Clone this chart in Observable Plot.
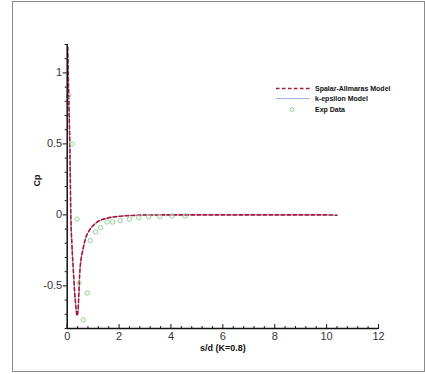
<!DOCTYPE html>
<html><head><meta charset="utf-8">
<script src="https://cdn.jsdelivr.net/npm/d3@7"></script>
<script src="https://cdn.jsdelivr.net/npm/@observablehq/plot@0.6"></script>
<style>
body{margin:0;background:#fff;font-family:"Liberation Sans",Arial,sans-serif;}
#wrap{position:relative;width:425px;height:374px;overflow:hidden;}
#frame{position:absolute;left:12px;top:1px;width:411px;height:369px;border:1px solid #8a8a8a;pointer-events:none;}
#legend{position:absolute;left:276px;top:83px;font:bold 7px "Liberation Sans",Arial,sans-serif;color:#111;}
.row{display:flex;align-items:center;height:10.5px;white-space:nowrap;}
.row svg{width:34px;height:7px;margin-right:5px;flex:none;}
</style></head><body>
<div id="wrap"><div id="frame"></div><div id="legend"></div></div>
<script>
// Spalart-Allmaras model
const saX = [0.02,0.04,0.07,0.10,0.12,0.14,0.18,0.24,0.29,0.34,0.38,0.42,0.45,0.48,0.53,0.60,0.70,0.85,1.0,1.2,1.5,2.0,2.5,3.0,4.0,5.0,6.0,7.0,8.0,9.0,10.0,10.4];
const saY = [1.18,1.0,0.75,0.5,0.25,0.0,-0.2,-0.4,-0.55,-0.66,-0.71,-0.67,-0.55,-0.42,-0.32,-0.25,-0.17,-0.11,-0.075,-0.045,-0.025,-0.01,-0.004,-0.001,0,0,0,0,0,0,0,-0.003];
// k-epsilon model
const keX = [0.02,0.04,0.07,0.10,0.12,0.14,0.18,0.24,0.29,0.34,0.38,0.42,0.45,0.48,0.53,0.60,0.70,0.85,1.0,1.2,1.5,2.0,2.5,3.0,4.0,5.0,6.0,7.0,8.0,9.0,10.0,10.4];
const keY = [1.18,1.0,0.75,0.5,0.25,0.0,-0.2,-0.4,-0.55,-0.65,-0.70,-0.66,-0.55,-0.42,-0.32,-0.25,-0.17,-0.11,-0.075,-0.045,-0.025,-0.01,-0.004,-0.001,0,0,0,0,0,0,0,-0.003];
// Experimental data
const expX = [0.06,0.19,0.38,0.46,0.62,0.77,0.89,1.09,1.28,1.54,1.75,2.05,2.40,2.76,3.14,3.57,4.04,4.55];
const expY = [0.84,0.50,-0.03,-0.48,-0.74,-0.55,-0.18,-0.12,-0.09,-0.05,-0.05,-0.04,-0.03,-0.02,-0.014,-0.012,-0.008,-0.007];

const xTicks = [0,2,4,6,8,10,12];
const xMinor = d3.range(0,12.001,0.4).filter(v => Math.abs(v/2 - Math.round(v/2)) > 1e-6);
const yTicks = [-0.5,0,0.5,1];
const yMinor = d3.range(-8,13).map(v => v/10).filter(v => Math.abs(v*2 - Math.round(v*2)) > 1e-6);

const legendItems = ["Spalar-Allmaras Model","k-epsilon Model","Exp Data"];
const xLabel = "s/d (K=0.8)";
const yLabel = "Cp";

const saColor = "#a8193a", keColor = "#9fb4e6", expColor = "#95d195";

const sa = saX.map((x,i) => ({x, y: saY[i]}));
const ke = keX.map((x,i) => ({x, y: keY[i]}));
const ex = expX.map((x,i) => ({x, y: expY[i]}));

const tickUp = {draw(ctx, l){ ctx.moveTo(0,0); ctx.lineTo(0,-l); }};

const plot = Plot.plot({
  width: 425, height: 374,
  marginLeft: 66.7, marginRight: 47, marginTop: 44, marginBottom: 46,
  x: {domain: [0,12]}, y: {domain: [-0.8,1.2]},
  style: {fontFamily: "Liberation Sans, Arial, sans-serif", fontSize: "11px", color: "#333", background: "transparent"},
  marks: [
    Plot.line(ke, {x: "x", y: "y", stroke: keColor, strokeWidth: 1, curve: "monotone-x"}),
    Plot.line(sa, {x: "x", y: "y", stroke: saColor, strokeWidth: 1.6, strokeDasharray: "3.5,2.5", curve: "monotone-x"}),
    Plot.dot(ex, {x: "x", y: "y", r: 2.2, stroke: expColor, strokeWidth: 1, fill: "none"}),
    Plot.ruleX([0], {stroke: "#111", strokeWidth: 1.5}),
    Plot.ruleY([-0.8], {stroke: "#111", strokeWidth: 1.5}),
    Plot.axisY(yTicks, {tickSize: 4, tickPadding: 1, tickFormat: d => String(d), label: null, stroke: "#111"}),
    Plot.axisY(yMinor, {tickSize: 2, tickFormat: () => "", label: null, stroke: "#111"}),
    Plot.axisX(xTicks, {tickSize: 0, tickPadding: 4, tickFormat: d => String(d), label: null}),
    Plot.vector(xTicks, {x: d => d, frameAnchor: "bottom", length: 4, anchor: "start", shape: tickUp, stroke: "#111", strokeWidth: 1}),
    Plot.vector(xMinor, {x: d => d, frameAnchor: "bottom", length: 2, anchor: "start", shape: tickUp, stroke: "#111", strokeWidth: 1}),
    Plot.text([xLabel], {frameAnchor: "bottom", dy: 22, fontWeight: "bold", fontSize: 9, fill: "#111"}),
    Plot.text([yLabel], {frameAnchor: "left", dx: -29.7, rotate: -90, fontWeight: "bold", fontSize: 9, fill: "#111"})
  ]
});
document.getElementById("wrap").prepend(plot);

const leg = document.getElementById("legend");
const samples = [
  `<svg viewBox="0 0 34 7"><line x1="0" y1="3.5" x2="34" y2="3.5" stroke="${saColor}" stroke-width="1.6" stroke-dasharray="3.5,2.5"/></svg>`,
  `<svg viewBox="0 0 34 7"><line x1="0" y1="3.5" x2="34" y2="3.5" stroke="${keColor}" stroke-width="1"/></svg>`,
  `<svg viewBox="0 0 34 7"><circle cx="16" cy="3.5" r="2" fill="none" stroke="${expColor}" stroke-width="1"/></svg>`
];
legendItems.forEach((t,i) => {
  const r = document.createElement("div");
  r.className = "row";
  r.innerHTML = samples[i] + `<span>${t}</span>`;
  leg.appendChild(r);
});
</script>
</body></html>
